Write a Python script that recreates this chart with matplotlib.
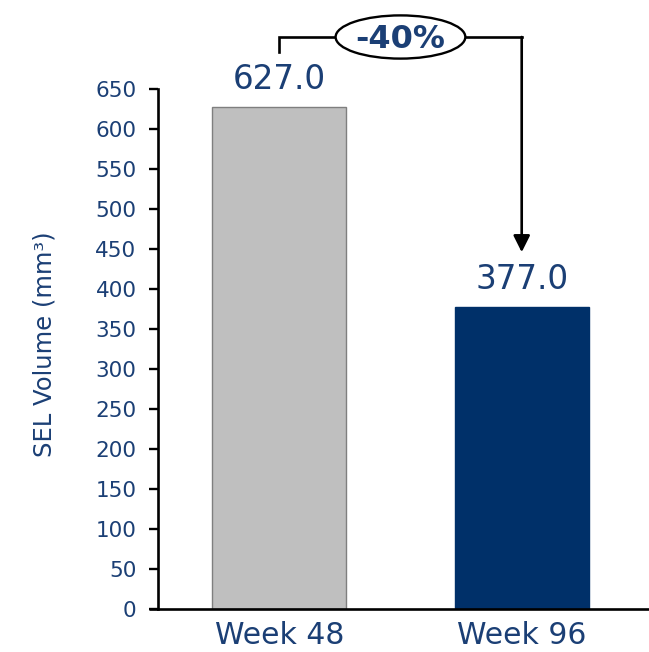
import matplotlib
matplotlib.use("Agg")
import matplotlib.pyplot as plt
from matplotlib.patches import Ellipse

# Data
categories = ["Week 48", "Week 96"]
volumes = [627.0, 377.0]
bar_colors = ["#BFBFBF", "#003069"]
edge_colors = ["#7F7F7F", "#003069"]
change_label = "-40%"
y_ticks = list(range(0, 651, 50))

text_color = "#1B3F75"

plt.rcParams["font.family"] = ["DejaVu Sans"]

fig = plt.figure(figsize=(6.49, 6.52), dpi=100)
W, H = 649, 652
ax_left, ax_w = 158, 491
ax = fig.add_axes([ax_left / W, 43 / H, ax_w / W, 520 / H])

x = list(range(len(categories)))
ax.bar(x, volumes, width=0.553, color=bar_colors, edgecolor=edge_colors,
       linewidth=1.0, zorder=2)

ax.set_xlim(-0.5, 1.525)
ax.set_ylim(0, 650)
ax.set_yticks(y_ticks)
ax.set_xticks(x)
ax.set_xticklabels(categories)

for side in ("top", "right"):
    ax.spines[side].set_visible(False)
for side in ("left", "bottom"):
    ax.spines[side].set_linewidth(1.9)
    ax.spines[side].set_color("black")

ax.tick_params(axis="y", direction="out", length=6.5, width=1.7,
               colors="black", labelcolor=text_color, labelsize=15.5, pad=9)
ax.tick_params(axis="x", length=0, labelcolor=text_color, labelsize=21.5, pad=9)

# bottom axis line continues under the y tick marks
ax.plot([-9 / ax_w, 0], [0, 0], transform=ax.transAxes, color="black",
        lw=1.9, clip_on=False, solid_capstyle="butt")

ax.set_ylabel("SEL Volume (mm³)", color=text_color, fontsize=17.5)
ax.yaxis.set_label_coords(-0.207, 0.51)

# value labels above bars
for xi, v in zip(x, volumes):
    ax.annotate(f"{v:.1f}", xy=(xi, v), xytext=(0, 8), textcoords="offset points",
                ha="center", va="bottom", fontsize=23.5, color=text_color)

# bracket with arrow showing the change between the two bars
top = 715
start = volumes[0] + 69
tip = volumes[1] + 69
ax.plot([x[0], x[0], x[1]], [start, top, top], color="black",
        lw=1.9, clip_on=False, solid_joinstyle="miter", solid_capstyle="projecting")
ax.annotate("", xy=(x[1], tip), xytext=(x[1], top),
            arrowprops=dict(arrowstyle="-|>,head_length=1.0,head_width=0.5",
                            lw=1.9, color="black", shrinkA=0, shrinkB=0),
            annotation_clip=False)

mid = (x[0] + x[1]) / 2
ell = Ellipse((mid, top), width=0.535, height=54, facecolor="white",
              edgecolor="black", lw=1.7, clip_on=False, zorder=5)
ax.add_patch(ell)
ax.text(mid, top - 3, change_label, ha="center", va="center", fontsize=23,
        fontweight="bold", color=text_color, zorder=6, clip_on=False)

fig.savefig("out.png", dpi=100)
